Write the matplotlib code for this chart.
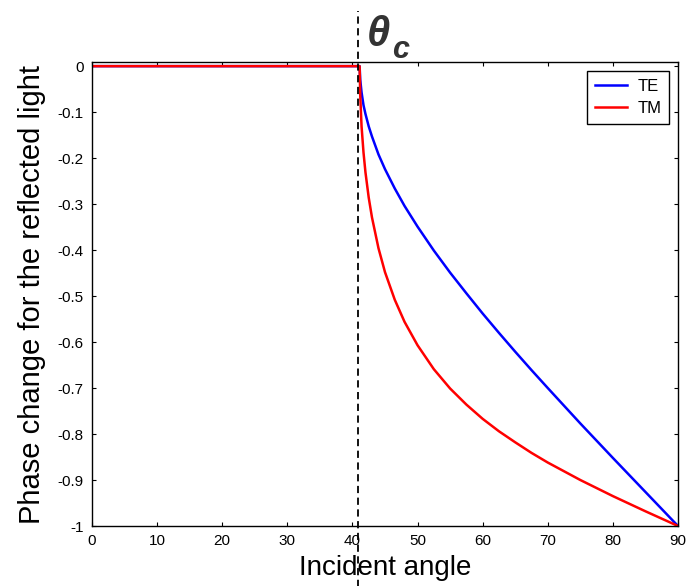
import numpy as np
import matplotlib
matplotlib.use('Agg')
import matplotlib.pyplot as plt

plt.rcParams['font.family'] = ['Liberation Sans', 'DejaVu Sans']
plt.rcParams['axes.unicode_minus'] = False

# values
angle = [0, 41.1, 41.2, 41.4, 41.7, 42.0, 42.5, 43.0, 44.0, 45.0, 46.5, 48.0, 50.0,
         52.5, 55.0, 57.5, 60.0, 62.5, 65.0, 67.5, 70.0, 75.0, 80.0, 85.0, 90.0]
phase_te = [0, 0, -0.03, -0.057, -0.085, -0.104, -0.131, -0.153, -0.192, -0.224, -0.266,
            -0.304, -0.349, -0.401, -0.449, -0.494, -0.538, -0.580, -0.621, -0.661,
            -0.700, -0.777, -0.852, -0.926, -1.0]
phase_tm = [0, 0, -0.065, -0.131, -0.188, -0.231, -0.286, -0.329, -0.396, -0.448, -0.508,
            -0.556, -0.607, -0.659, -0.701, -0.736, -0.767, -0.794, -0.818, -0.841,
            -0.862, -0.900, -0.935, -0.968, -1.0]

theta_c = 40.9

xticks = np.arange(0, 91, 10)
yticks = [0, -0.1, -0.2, -0.3, -0.4, -0.5, -0.6, -0.7, -0.8, -0.9, -1]
ytick_labels = ['0', '-0.1', '-0.2', '-0.3', '-0.4', '-0.5', '-0.6', '-0.7', '-0.8', '-0.9', '-1']

fig = plt.figure(figsize=(6.92, 5.86), dpi=100)
ax = fig.add_axes([92 / 692, 60 / 586, (678 - 92) / 692, (526 - 62) / 586])

ax.plot(angle, phase_te, color='#0000ff', lw=1.8, label='TE')
ax.plot(angle, phase_tm, color='#ff0000', lw=1.8, label='TM')
ax.axvline(theta_c, ymin=-0.14, ymax=1.11, color='black', ls=(0, (4, 2.5)), lw=1.3,
           clip_on=False)

ax.set_xlim(0, 90)
ax.set_ylim(-1, 0.009)
ax.set_xticks(xticks)
ax.set_yticks(yticks)
ax.set_yticklabels(ytick_labels)
ax.tick_params(direction='in', length=3, width=0.8, top=True, right=True,
               labelsize=11, pad=6)
for sp in ax.spines.values():
    sp.set_linewidth(1.0)

ax.set_xlabel('Incident angle', fontsize=20)
ax.xaxis.set_label_coords(0.5, -0.062)
ax.set_ylabel('Phase change for the reflected light', fontsize=21)
ax.yaxis.set_label_coords(-0.079, 0.5)

leg = ax.legend(loc='upper right', fontsize=12, handlelength=1.9, handletextpad=0.65,
                borderaxespad=0.55, labelspacing=0.45, borderpad=0.45,
                fancybox=False, framealpha=1, edgecolor='black')
leg.get_frame().set_linewidth(1.0)

fig.text(367 / 692, 1 - 46 / 586, 'θ', fontsize=30, fontweight='bold',
         fontstyle='italic', color='#333333', ha='left', va='baseline')
fig.text(392 / 692, 1 - 58 / 586, 'c', fontsize=22, fontweight='bold',
         fontstyle='italic', color='#333333', ha='left', va='baseline')

fig.savefig('out.png', dpi=100)
